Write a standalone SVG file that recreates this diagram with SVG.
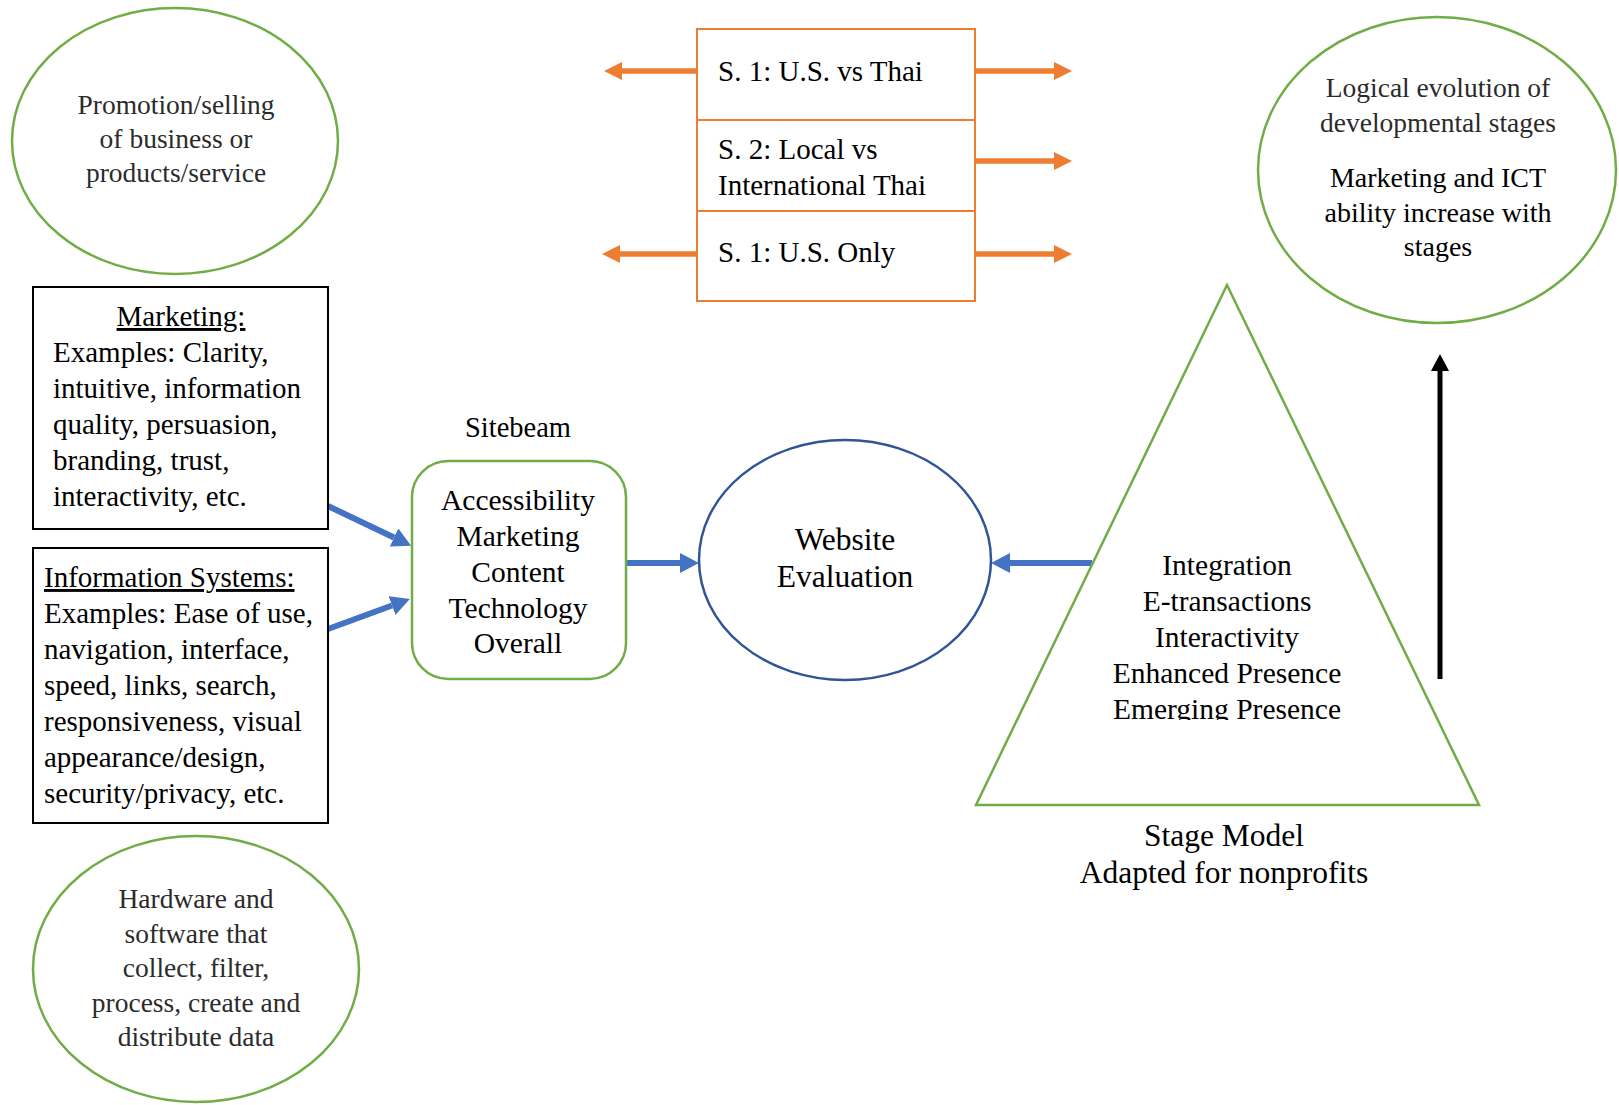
<svg xmlns="http://www.w3.org/2000/svg" width="1619" height="1105" viewBox="0 0 1619 1105">
  <defs>
    <style>
      .t { font-family: "Liberation Serif", "Times New Roman", serif; fill: #000; }
      .g { fill: #2b2b2b; }
      .c { text-anchor: middle; }
      .green { fill: none; stroke: #70AD47; stroke-width: 2.5; }
      .orange { fill: none; stroke: #ED7D31; stroke-width: 2; }
      .box { fill: none; stroke: #000; stroke-width: 2; }
      .blue-line { stroke: #4472C4; stroke-width: 6; fill: none; }
      .orange-line { stroke: #ED7D31; stroke-width: 5.5; fill: none; }
    </style>
    <marker id="headBlue" markerUnits="userSpaceOnUse" markerWidth="20" markerHeight="20" refX="0" refY="10" orient="auto">
      <path d="M0,0 L19,10 L0,20 z" fill="#4472C4"/>
    </marker>
    <marker id="headOrange" markerUnits="userSpaceOnUse" markerWidth="18" markerHeight="18" refX="0" refY="9" orient="auto">
      <path d="M0,0 L18,9 L0,18 z" fill="#ED7D31"/>
    </marker>
    <marker id="headBlack" markerUnits="userSpaceOnUse" markerWidth="18" markerHeight="18" refX="0" refY="9" orient="auto">
      <path d="M0,0 L17,9 L0,18 z" fill="#000"/>
    </marker>
    <clipPath id="triClip">
      <rect x="900" y="540" width="640" height="180"/>
    </clipPath>
  </defs>

  <rect x="0" y="0" width="1619" height="1105" fill="#fff"/>

  <!-- connectors -->
  <g id="connectors">
    <!-- stage selector arrows -->
    <line class="orange-line" x1="697" y1="71" x2="622" y2="71" marker-end="url(#headOrange)"/>
    <line class="orange-line" x1="975" y1="71" x2="1054" y2="71" marker-end="url(#headOrange)"/>
    <line class="orange-line" x1="975" y1="161" x2="1054" y2="161" marker-end="url(#headOrange)"/>
    <line class="orange-line" x1="697" y1="254" x2="620" y2="254" marker-end="url(#headOrange)"/>
    <line class="orange-line" x1="975" y1="254" x2="1054" y2="254" marker-end="url(#headOrange)"/>
    <!-- inputs into Sitebeam -->
    <line class="blue-line" x1="328" y1="506" x2="394" y2="537.5" marker-end="url(#headBlue)"/>
    <line class="blue-line" x1="328" y1="629" x2="392" y2="605.5" marker-end="url(#headBlue)"/>
    <!-- Sitebeam to evaluation -->
    <line class="blue-line" x1="626" y1="563" x2="680" y2="563" marker-end="url(#headBlue)"/>
    <!-- stage model to evaluation -->
    <line class="blue-line" x1="1092" y1="563" x2="1010" y2="563" marker-end="url(#headBlue)"/>
    <!-- stage progression -->
    <line x1="1440" y1="679" x2="1440" y2="371" stroke="#000" stroke-width="5" marker-end="url(#headBlack)"/>
  </g>

  <!-- promotion ellipse -->
  <g id="node-promotion">
    <ellipse class="green" cx="175" cy="141" rx="163" ry="133"/>
    <text class="t g c" font-size="27.5" x="176"><tspan x="176" y="114">Promotion/selling</tspan><tspan x="176" y="148">of business or</tspan><tspan x="176" y="182">products/service</tspan></text>
  </g>

  <!-- marketing box -->
  <g id="node-marketing">
    <rect class="box" x="33" y="287" width="295" height="242"/>
    <text class="t c" font-size="29" x="181" y="326" text-decoration="underline">Marketing:</text>
    <text class="t" font-size="29"><tspan x="53" y="362">Examples: Clarity,</tspan><tspan x="53" y="398">intuitive, information</tspan><tspan x="53" y="434">quality, persuasion,</tspan><tspan x="53" y="470">branding, trust,</tspan><tspan x="53" y="506">interactivity, etc.</tspan></text>
  </g>

  <!-- information systems box -->
  <g id="node-is">
    <rect class="box" x="33" y="548" width="295" height="275"/>
    <text class="t" font-size="29" x="44" y="587" text-decoration="underline">Information Systems:</text>
    <text class="t" font-size="29"><tspan x="44" y="623">Examples: Ease of use,</tspan><tspan x="44" y="659">navigation, interface,</tspan><tspan x="44" y="695">speed, links, search,</tspan><tspan x="44" y="731">responsiveness, visual</tspan><tspan x="44" y="767">appearance/design,</tspan><tspan x="44" y="803">security/privacy, etc.</tspan></text>
  </g>

  <!-- hardware ellipse -->
  <g id="node-hardware">
    <ellipse class="green" cx="196" cy="969" rx="163" ry="133"/>
    <text class="t g c" font-size="27.5"><tspan x="196" y="908">Hardware and</tspan><tspan x="196" y="943">software that</tspan><tspan x="196" y="977">collect, filter,</tspan><tspan x="196" y="1012">process, create and</tspan><tspan x="196" y="1046">distribute data</tspan></text>
  </g>

  <!-- stage selector -->
  <g id="node-stages">
    <rect class="orange" x="697" y="29" width="278" height="91"/>
    <rect class="orange" x="697" y="120" width="278" height="91"/>
    <rect class="orange" x="697" y="211" width="278" height="90"/>
    <text class="t" font-size="29"><tspan x="718" y="81">S. 1: U.S. vs Thai</tspan><tspan x="718" y="159">S. 2: Local vs</tspan><tspan x="718" y="195">International Thai</tspan><tspan x="718" y="262">S. 1: U.S. Only</tspan></text>
  </g>

  <!-- sitebeam -->
  <g id="node-sitebeam">
    <text class="t c" font-size="28.5" x="518" y="437">Sitebeam</text>
    <rect class="green" x="412" y="461" width="214" height="218" rx="36" ry="36"/>
    <text class="t c" font-size="29.5"><tspan x="518" y="510">Accessibility</tspan><tspan x="518" y="546">Marketing</tspan><tspan x="518" y="582">Content</tspan><tspan x="518" y="618">Technology</tspan><tspan x="518" y="653">Overall</tspan></text>
  </g>

  <!-- website evaluation -->
  <g id="node-evaluation">
    <ellipse cx="845" cy="560" rx="146" ry="120" fill="none" stroke="#2F5597" stroke-width="2.5"/>
    <text class="t c" font-size="31.5"><tspan x="845" y="550">Website</tspan><tspan x="845" y="587">Evaluation</tspan></text>
  </g>

  <!-- stage model triangle -->
  <g id="node-stage-model">
    <polygon class="green" points="1227,285 976,805 1479,805"/>
    <g clip-path="url(#triClip)">
      <text class="t c" font-size="29.5"><tspan x="1227" y="575">Integration</tspan><tspan x="1227" y="611">E-transactions</tspan><tspan x="1227" y="647">Interactivity</tspan><tspan x="1227" y="683">Enhanced Presence</tspan><tspan x="1227" y="719">Emerging Presence</tspan></text>
    </g>
    <text class="t c" font-size="31.5"><tspan x="1224" y="846">Stage Model</tspan><tspan x="1224" y="883">Adapted for nonprofits</tspan></text>
  </g>

  <!-- evolution ellipse -->
  <g id="node-evolution">
    <ellipse class="green" cx="1437" cy="170" rx="179" ry="153"/>
    <text class="t g c" font-size="27.5"><tspan x="1438" y="97">Logical evolution of</tspan><tspan x="1438" y="132">developmental stages</tspan></text>
    <text class="t c" font-size="28"><tspan x="1438" y="187">Marketing and ICT</tspan><tspan x="1438" y="222">ability increase with</tspan><tspan x="1438" y="256">stages</tspan></text>
  </g>
</svg>
